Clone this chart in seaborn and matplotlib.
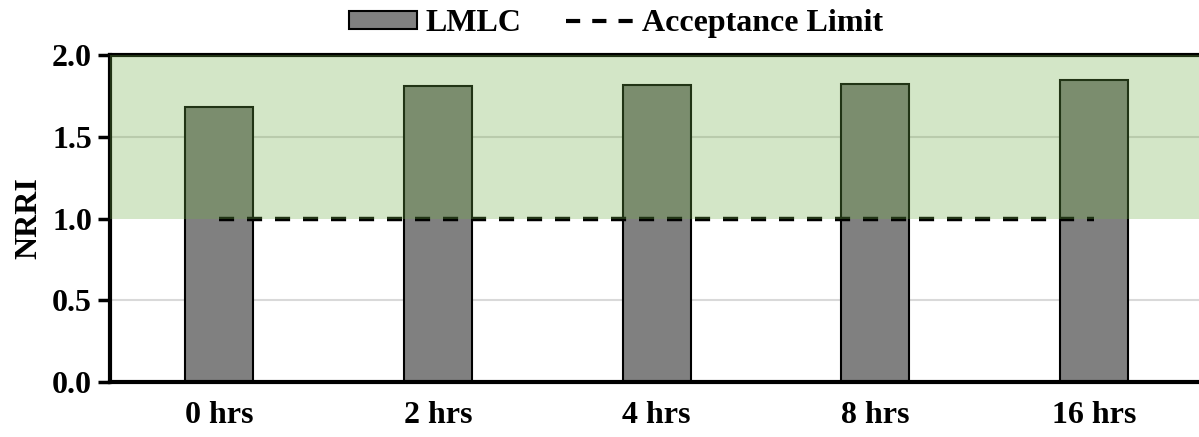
import matplotlib
matplotlib.use("Agg")
import matplotlib.pyplot as plt
import seaborn as sns
import pandas as pd
from matplotlib.lines import Line2D
from matplotlib.patches import Patch

# Data
categories = ["0 hrs", "2 hrs", "4 hrs", "8 hrs", "16 hrs"]
nrri = [1.68, 1.81, 1.815, 1.82, 1.845]
acceptance_limit = [1.0, 1.0, 1.0, 1.0, 1.0]
y_ticks = [0.0, 0.5, 1.0, 1.5, 2.0]

sns.set_theme(style="white")
plt.rcParams["font.family"] = ["Liberation Serif", "DejaVu Serif"]
plt.rcParams["font.weight"] = "bold"
plt.rcParams["text.color"] = "black"
plt.rcParams["axes.labelcolor"] = "black"
plt.rcParams["xtick.color"] = "black"
plt.rcParams["ytick.color"] = "black"

df = pd.DataFrame({"Time": categories, "NRRI": nrri, "Limit": acceptance_limit})

fig = plt.figure(figsize=(11.99, 4.37), dpi=100)
ax = fig.add_axes([0.0917, 0.126, 0.912, 0.748])

sns.barplot(data=df, x="Time", y="NRRI", color="#808080", edgecolor="black",
            linewidth=1.5, width=0.31, saturation=1, ax=ax, zorder=2)
dash = (0, (3.4, 2.9))
ax.plot(range(len(categories)), df["Limit"], color="black", lw=3.2,
        ls=dash, zorder=3)

# acceptable region shading drawn over everything
ax.axhspan(1.0, 2.0, color="#70AD47", alpha=0.3, lw=0, zorder=10)

for y in [0.5, 1.5]:
    ax.axhline(y, color="#D9D9D9", lw=1.5, zorder=0.5)

ax.set_xlim(-0.5, 4.5)
ax.set_ylim(0, 2.0)
ax.set_yticks(y_ticks)
ax.set_yticklabels([f"{v:.1f}" for v in y_ticks])
ax.set_xlabel("")
ax.set_ylabel("NRRI", fontsize=23, fontweight="bold", labelpad=6, color="black")

for s in ["left", "bottom", "top"]:
    ax.spines[s].set_visible(True)
    ax.spines[s].set_color("black")
    ax.spines[s].set_linewidth(3)
    ax.spines[s].set_zorder(5)
ax.spines["right"].set_visible(False)

ax.tick_params(axis="y", which="both", left=True, length=9, width=2.5,
               labelsize=23, pad=4, color="black", labelcolor="black")
ax.tick_params(axis="x", bottom=False, labelsize=23, pad=8, labelcolor="black")
for lbl in ax.get_xticklabels() + ax.get_yticklabels():
    lbl.set_fontweight("bold")

handles = [Patch(facecolor="#808080", edgecolor="black", lw=1.5, label="LMLC"),
           Line2D([0], [0], color="black", lw=3, ls=dash, label="Acceptance Limit")]
leg = fig.legend(handles=handles, loc="upper center", bbox_to_anchor=(0.514, 1.045), ncol=2,
                 frameon=False, prop={"weight": "bold", "size": 23},
                 handlelength=2.13, handleheight=0.5, handletextpad=0.25, columnspacing=1.4)
for t in leg.get_texts():
    t.set_color("black")

fig.savefig("out.png", dpi=100)
